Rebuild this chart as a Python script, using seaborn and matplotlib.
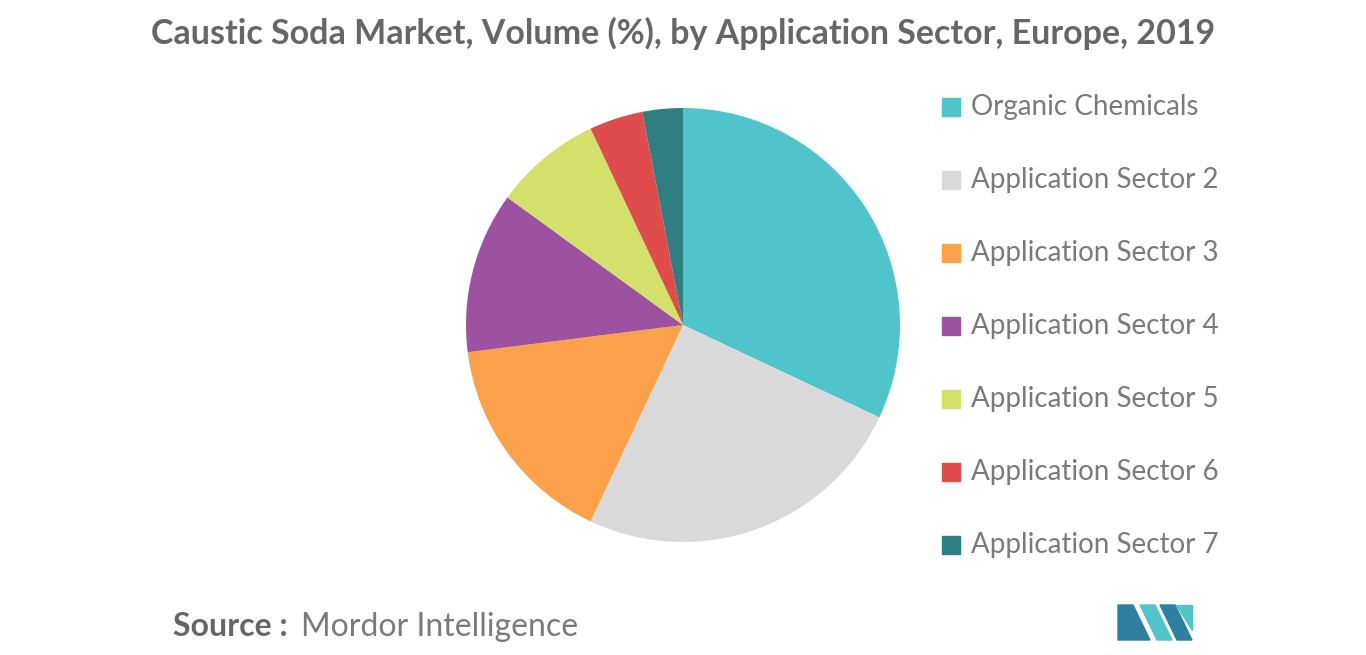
import matplotlib
matplotlib.use("Agg")
import matplotlib.pyplot as plt
import seaborn as sns
from matplotlib.patches import Rectangle, Polygon

# Data
sectors = ["Organic Chemicals", "Application Sector 2", "Application Sector 3",
           "Application Sector 4", "Application Sector 5", "Application Sector 6",
           "Application Sector 7"]
shares = [32, 25, 16, 12, 8, 4, 3]
colors = sns.color_palette(["#50C4CB", "#D9D9D9", "#FBA14A", "#9C52A0",
                            "#D3E16A", "#E04B4B", "#2E7F82"])

sns.set_theme(style="white", font="Lato")
fig = plt.figure(figsize=(13.66, 6.55), dpi=100)

# Pie
ax = fig.add_axes([683 / 1366 - 217 / 1366, 1 - 542 / 655, 434 / 1366, 434 / 655])
ax.pie(shares, colors=colors, startangle=90, counterclock=False,
       wedgeprops=dict(linewidth=0), radius=1)
ax.set_xlim(-1, 1)
ax.set_ylim(-1, 1)
ax.set_aspect("equal")
ax.axis("off")

# Title
fig.text(683 / 1366, 1 - 33 / 655,
         "Caustic Soda Market, Volume (%), by Application Sector, Europe, 2019",
         ha="center", va="center", fontsize=24.5, fontweight="bold", color="#666666")

# Legend
for i, (name, c) in enumerate(zip(sectors, colors)):
    y = 107 + i * 73
    fig.patches.append(Rectangle((942 / 1366, 1 - (y + 9) / 655), 18 / 1366, 18 / 655,
                                 transform=fig.transFigure, color=c))
    fig.text(971 / 1366, 1 - y / 655, name, ha="left", va="center",
             fontsize=20, color="#7a7a7a")

# Source
fig.text(173 / 1366, 1 - 627 / 655, "Source :", ha="left", va="center",
         fontsize=23, fontweight="bold", color="#666666")
fig.text(301 / 1366, 1 - 627 / 655, "Mordor Intelligence", ha="left", va="center",
         fontsize=23, color="#7a7a7a")

# Logo
def px(pts):
    return [(x / 1366, 1 - y / 655) for x, y in pts]

fig.patches.append(Polygon(px([(1118, 640), (1118, 605), (1133, 605), (1150, 640)]),
                           transform=fig.transFigure, color="#2E7FA0"))
fig.patches.append(Polygon(px([(1140, 605), (1155, 605), (1172, 640), (1157, 640)]),
                           transform=fig.transFigure, color="#50C4CB"))
fig.patches.append(Polygon(px([(1160, 605), (1175, 605), (1192, 640), (1177, 640)]),
                           transform=fig.transFigure, color="#2E7FA0"))
fig.patches.append(Polygon(px([(1176, 605), (1192, 605), (1192, 630)]),
                           transform=fig.transFigure, color="#50C4CB"))

fig.savefig("out.png", dpi=100)
